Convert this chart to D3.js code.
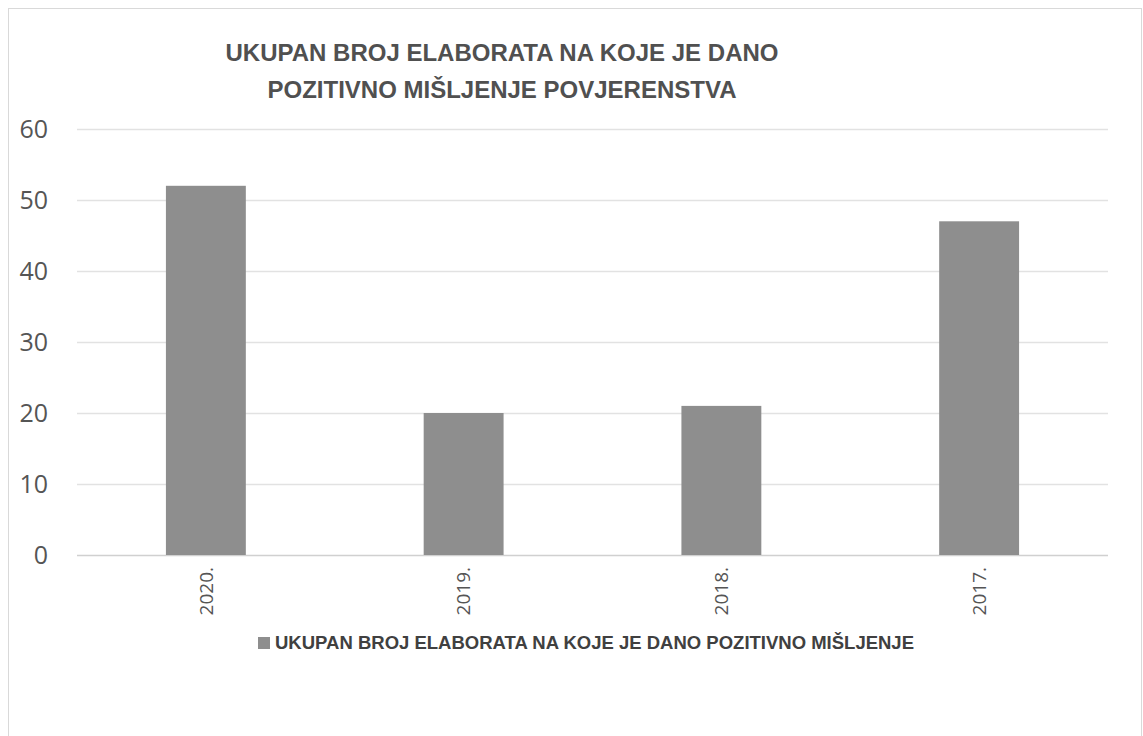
<!DOCTYPE html>
<html>
<head>
<meta charset="utf-8">
<script src="https://cdn.jsdelivr.net/npm/d3@7"></script>
<style>
  body { margin: 0; background: #fff; }
  svg { display: block; }
</style>
</head>
<body>
<div id="chart"></div>
<script>
// data
const years = ["2020.", "2019.", "2018.", "2017."];
const counts = [52, 20, 21, 47];
const yTicks = [0, 10, 20, 30, 40, 50, 60];
const titleLines = ["UKUPAN BROJ ELABORATA NA KOJE JE DANO", "POZITIVNO MIŠLJENJE POVJERENSTVA"];
const seriesName = "UKUPAN BROJ ELABORATA NA KOJE JE DANO POZITIVNO MIŠLJENJE";

const W = 1143, H = 736;
const margin = {top: 129, right: 35, bottom: 181, left: 77};
const width = W - margin.left - margin.right;
const height = H - margin.top - margin.bottom;

const svg = d3.select("#chart").append("svg")
    .attr("width", W)
    .attr("height", H);

// chart frame
svg.append("rect")
    .attr("x", 8.5).attr("y", 8.5)
    .attr("width", W - 10).attr("height", H)
    .attr("fill", "none")
    .attr("stroke", "#d9d9d9");

const chart = svg.append("g")
    .attr("transform", "translate(" + margin.left + "," + margin.top + ")");

const x = d3.scaleBand()
    .domain(years)
    .range([0, width])
    .paddingInner(0.69)
    .paddingOuter(0.345);

const y = d3.scaleLinear()
    .domain([0, 60])
    .range([height, 0]);

// gridlines
chart.append("g")
    .selectAll("line")
    .data(yTicks)
    .enter().append("line")
    .attr("x1", 0)
    .attr("x2", width)
    .attr("y1", d => Math.round(y(d)) + 0.5)
    .attr("y2", d => Math.round(y(d)) + 0.5)
    .attr("stroke", d => d === 0 ? "#d0d0d0" : "#e2e2e2")
    .attr("stroke-width", 1.5);

// y tick labels
const yAxis = chart.append("g")
    .call(d3.axisLeft(y).tickValues(yTicks).tickSize(0).tickPadding(29));
yAxis.select(".domain").remove();
yAxis.selectAll("text")
    .attr("font-family", "'Open Sans', sans-serif")
    .attr("font-size", 25)
    .attr("fill", "#555");

// bars
chart.append("g")
    .selectAll("rect")
    .data(counts)
    .enter().append("rect")
    .attr("x", (d, i) => x(years[i]))
    .attr("y", d => y(d))
    .attr("width", x.bandwidth())
    .attr("height", d => y(0) - y(d))
    .attr("fill", "#8e8e8e");

// x axis labels, rotated
const xAxis = chart.append("g")
    .attr("transform", "translate(0," + height + ")")
    .call(d3.axisBottom(x).tickSize(0));
xAxis.select(".domain").remove();
xAxis.selectAll("text")
    .attr("font-family", "'Open Sans', sans-serif")
    .attr("font-size", 19)
    .attr("fill", "#555")
    .attr("transform", "rotate(-90)")
    .attr("text-anchor", "end")
    .attr("x", -12)
    .attr("y", 0)
    .attr("dy", "0.35em");

// title
svg.append("g")
    .attr("font-family", "'Liberation Sans', sans-serif")
    .attr("font-weight", "bold")
    .attr("font-size", 24)
    .attr("fill", "#505050")
    .attr("text-anchor", "middle")
    .selectAll("text")
    .data(titleLines)
    .enter().append("text")
    .attr("x", 502)
    .attr("y", (d, i) => 61 + i * 37)
    .text(d => d);

// legend
const legend = svg.append("g")
    .attr("transform", "translate(258,637)");
legend.append("rect")
    .attr("width", 12)
    .attr("height", 12)
    .attr("fill", "#8e8e8e");
legend.append("text")
    .attr("x", 17)
    .attr("y", 6)
    .attr("dy", "0.35em")
    .attr("font-family", "'Liberation Sans', sans-serif")
    .attr("font-weight", "bold")
    .attr("font-size", 18.5)
    .attr("fill", "#404040")
    .text(seriesName);
</script>
</body>
</html>
